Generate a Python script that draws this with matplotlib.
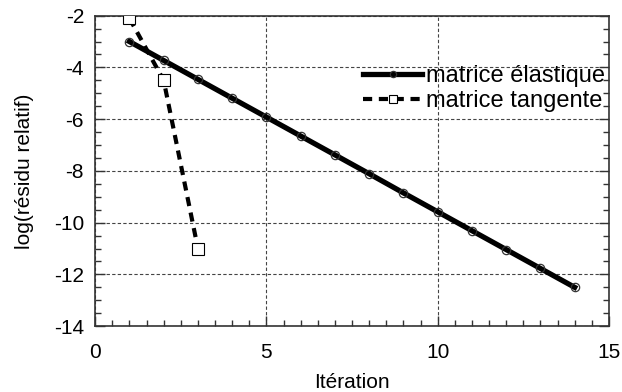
import matplotlib
matplotlib.use('Agg')
import matplotlib.pyplot as plt
from matplotlib.ticker import MultipleLocator

plt.rcParams['font.family'] = ['Liberation Sans', 'DejaVu Sans']
plt.rcParams['axes.unicode_minus'] = False

## data
iter_elastique = [1, 2, 3, 4, 5, 6, 7, 8, 9, 10, 11, 12, 13, 14]
res_elastique = [-3.0, -3.73, -4.46, -5.19, -5.92, -6.65, -7.38, -8.11,
                 -8.85, -9.58, -10.31, -11.04, -11.77, -12.5]
iter_tangente = [1, 2, 3]
res_tangente = [-2.1, -4.5, -11.0]

fig = plt.figure(figsize=(6.22, 3.92), dpi=100)
ax = fig.add_axes([0.153, 0.168, 0.826, 0.792])

ax.plot(iter_elastique, res_elastique, '-', color='black', lw=3.8,
        marker='o', ms=6, mfc='none', mec='#333333', mew=0.9,
        label='matrice élastique', zorder=3)
ax.plot(iter_tangente, res_tangente, color='black', lw=3, dashes=(2.2, 1.6),
        marker='s', ms=8, mfc='white', mec='black', mew=0.8,
        label='matrice tangente', zorder=3)

ax.set_xlim(0, 15)
ax.set_ylim(-14, -2)
ax.xaxis.set_major_locator(MultipleLocator(5))
ax.xaxis.set_minor_locator(MultipleLocator(0.5))
ax.yaxis.set_major_locator(MultipleLocator(2))
ax.yaxis.set_minor_locator(MultipleLocator(0.5))
ax.tick_params(which='both', direction='in', right=True, top=False,
               labelsize=15, width=1, color='#333333')
ax.tick_params(which='major', length=7)
ax.tick_params(which='minor', length=4)
ax.tick_params(axis='x', which='major', pad=12)
ax.tick_params(axis='y', which='major', pad=8)

ax.grid(True, which='major', color='#444444', lw=0.8, linestyle=(0, (3, 2)))
for s in ax.spines.values():
    s.set_linewidth(1.2)
    s.set_color('#333333')

ax.set_xlabel('Itération', fontsize=15, labelpad=8)
ax.set_ylabel('log(résidu relatif)', fontsize=15, labelpad=14)

leg = ax.legend(loc='upper right', bbox_to_anchor=(1.01, 0.87), frameon=False,
                fontsize=17, handlelength=2.5, handletextpad=0.15,
                labelspacing=0.1, borderaxespad=0.0, markerscale=0.75)

fig.savefig('out.png', dpi=100)
